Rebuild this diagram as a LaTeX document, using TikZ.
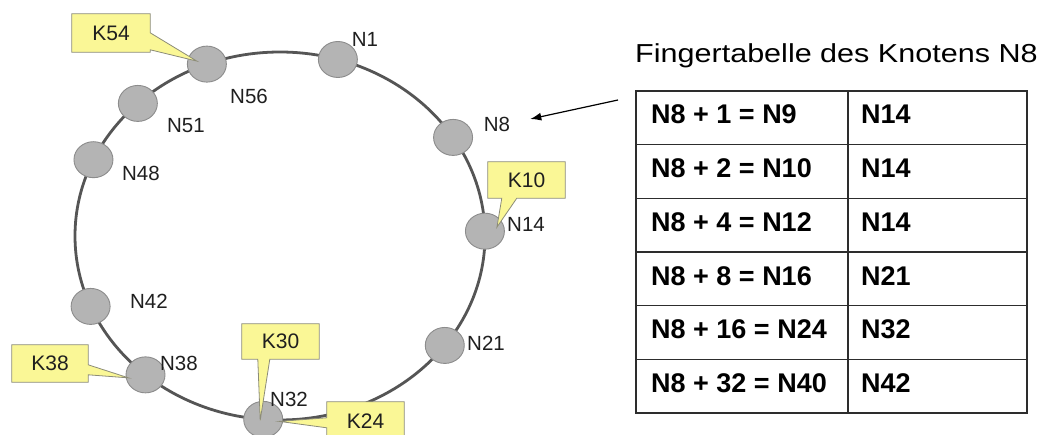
\documentclass[tikz,border=0pt]{standalone}
\usepackage{fontspec}
\setmainfont{Liberation Sans}
\usetikzlibrary{calc,shapes.geometric,arrows.meta}
\definecolor{ringgray}{RGB}{85,85,85}
\definecolor{peerfill}{RGB}{180,180,180}
\definecolor{peerline}{RGB}{140,140,140}
\definecolor{keyfill}{RGB}{250,247,150}
\definecolor{keyline}{RGB}{140,140,120}
\definecolor{gridline}{RGB}{45,45,45}
\pgfdeclarelayer{ringlayer}
\pgfdeclarelayer{keylayer}
\pgfsetlayers{ringlayer,keylayer,main}

\begin{document}
\begin{tikzpicture}[x=1pt,y=-1pt,
  ring/.style={draw=ringgray,line width=2.8pt},
  peer/.style={ellipse,fill=peerfill,draw=peerline,line width=0.9pt,
    minimum width=39pt,minimum height=36pt,inner sep=0pt},
  peerlabel/.style={inner sep=0pt,font=\fontsize{20.5}{22}\selectfont,text=black!88},
  keybox/.style={inner sep=0pt,font=\fontsize{21}{22}\selectfont,text=black!88},
  keyshape/.style={fill=keyfill,draw=keyline,line width=0.8pt,line join=miter},
  cell/.style={anchor=base west,inner sep=0pt,font=\bfseries\fontsize{27}{29}\selectfont},
  gridrule/.style={draw=gridline,line width=1.4pt},
  pointer/.style={draw=black,line width=1.2pt,-{Latex[length=11pt,width=8pt]}}
]
\useasboundingbox (0,0) rectangle (1045,435);
\coordinate (c) at (280,236);

% ring of peers
\begin{pgfonlayer}{ringlayer}
  \fill[white] (0,0) rectangle (1045,435);
  \draw[ring] (c) ellipse [x radius=205pt, y radius=184pt];
  \node[peer] (n1)  at ($(c)+(-73.6:205 and 184)$) {};
  \node[peer] (n8)  at ($(c)+(-32.4:205 and 184)$) {};
  \node[peer] (n14) at ($(c)+(-1.5:205 and 184)$) {};
  \node[peer] (n21) at ($(c)+(-323.5:205 and 184)$) {};
  \node[peer] (n32) at ($(c)+(-265.3:205 and 184)$) {};
  \node[peer] (n38) at ($(c)+(-229:205 and 184)$) {};
  \node[peer] (n42) at ($(c)+(-202.5:205 and 184)$) {};
  \node[peer] (n48) at ($(c)+(-155.5:205 and 184)$) {};
  \node[peer] (n51) at ($(c)+(-133.9:205 and 184)$) {};
  \node[peer] (n56) at ($(c)+(-110.9:205 and 184)$) {};
\end{pgfonlayer}

% peer labels
\node[peerlabel] (l1)  at (365,39)  {N1};
\node[peerlabel] (l8)  at (497,124) {N8};
\node[peerlabel] (l14) at (526,224) {N14};
\node[peerlabel] (l21) at (486,343) {N21};
\node[peerlabel] (l32) at (289,399) {N32};
\node[peerlabel] (l38) at (179,363) {N38};
\node[peerlabel] (l42) at (149,301) {N42};
\node[peerlabel] (l48) at (141,173) {N48};
\node[peerlabel] (l51) at (186,126) {N51};
\node[peerlabel] (l56) at (249,96)  {N56};

% key callouts
\node[keybox,minimum width=78pt,minimum height=38pt] (k54) at (111,33)      {K54};
\node[keybox,minimum width=77pt,minimum height=36pt] (k10) at (526.5,180)   {K10};
\node[keybox,minimum width=76pt,minimum height=37pt] (k38) at (50,363.5)    {K38};
\node[keybox,minimum width=77pt,minimum height=35pt] (k30) at (280.5,341.5) {K30};
\node[keybox,minimum width=77pt,minimum height=38pt] (k24) at (365.5,421)   {K24};

\coordinate (t54) at ($(n56)+(-10,-3)$);
\coordinate (t10) at ($(n14)+(12,-4)$);
\coordinate (t38) at ($(n38)+(-17,3)$);
\coordinate (t30) at ($(n32)+(-3,1)$);
\coordinate (t24) at ($(n32)+(16,2)$);

\begin{pgfonlayer}{keylayer}
  \draw[keyshape] (k54.north west) -- (k54.north east) -- ($(k54.north east)+(0,19)$)
    -- (t54) -- ($(k54.north east)+(0,36)$) -- (k54.south east) -- (k54.south west) -- cycle;
  \draw[keyshape] (k10.north west) -- (k10.north east) -- (k10.south east)
    -- ($(k10.south west)+(29,0)$) -- (t10) -- ($(k10.south west)+(14,0)$) -- (k10.south west) -- cycle;
  \draw[keyshape] (k38.north west) -- (k38.north east) -- ($(k38.north east)+(0,20)$)
    -- (t38) -- ($(k38.north east)+(0,30)$) -- (k38.south east) -- (k38.south west) -- cycle;
  \draw[keyshape] (k30.north west) -- (k30.north east) -- (k30.south east)
    -- ($(k30.south west)+(28,0)$) -- (t30) -- ($(k30.south west)+(16,0)$) -- (k30.south west) -- cycle;
  \draw[keyshape] (k24.north west) -- (k24.north east) -- (k24.south east) -- (k24.south west)
    -- ($(k24.north west)+(0,26)$) -- (t24) -- ($(k24.north west)+(0,16)$) -- cycle;
\end{pgfonlayer}

% finger table
\node[anchor=base west,inner sep=0pt,font=\fontsize{26}{28}\selectfont] (title) at (635,63)
  {\scalebox{1.175}[1]{Fingertabelle des Knotens N8}};

\draw[gridrule] (636,91) rectangle (1027,413);
\foreach \k in {1,...,5} \draw[gridrule] (636,{91+53.67*\k}) -- (1027,{91+53.67*\k});
\draw[gridrule] (848,91) -- (848,413);

\foreach \i/\a/\b in {1/{N8 + 1 = N9}/N14, 2/{N8 + 2 = N10}/N14, 3/{N8 + 4 = N12}/N14,
                      4/{N8 + 8 = N16}/N21, 5/{N8 + 16 = N24}/N32, 6/{N8 + 32 = N40}/N42} {
  \node[cell] (f\i) at (651,{124+53.67*(\i-1)}) {\a};
  \node[cell] (s\i) at (861,{124+53.67*(\i-1)}) {\b};
}

% pointer from the table to N8
\coordinate (ptail) at (618,100);
\draw[pointer] (ptail) -- ($(l8.east)+(20,-5)$);
\end{tikzpicture}
\end{document}
